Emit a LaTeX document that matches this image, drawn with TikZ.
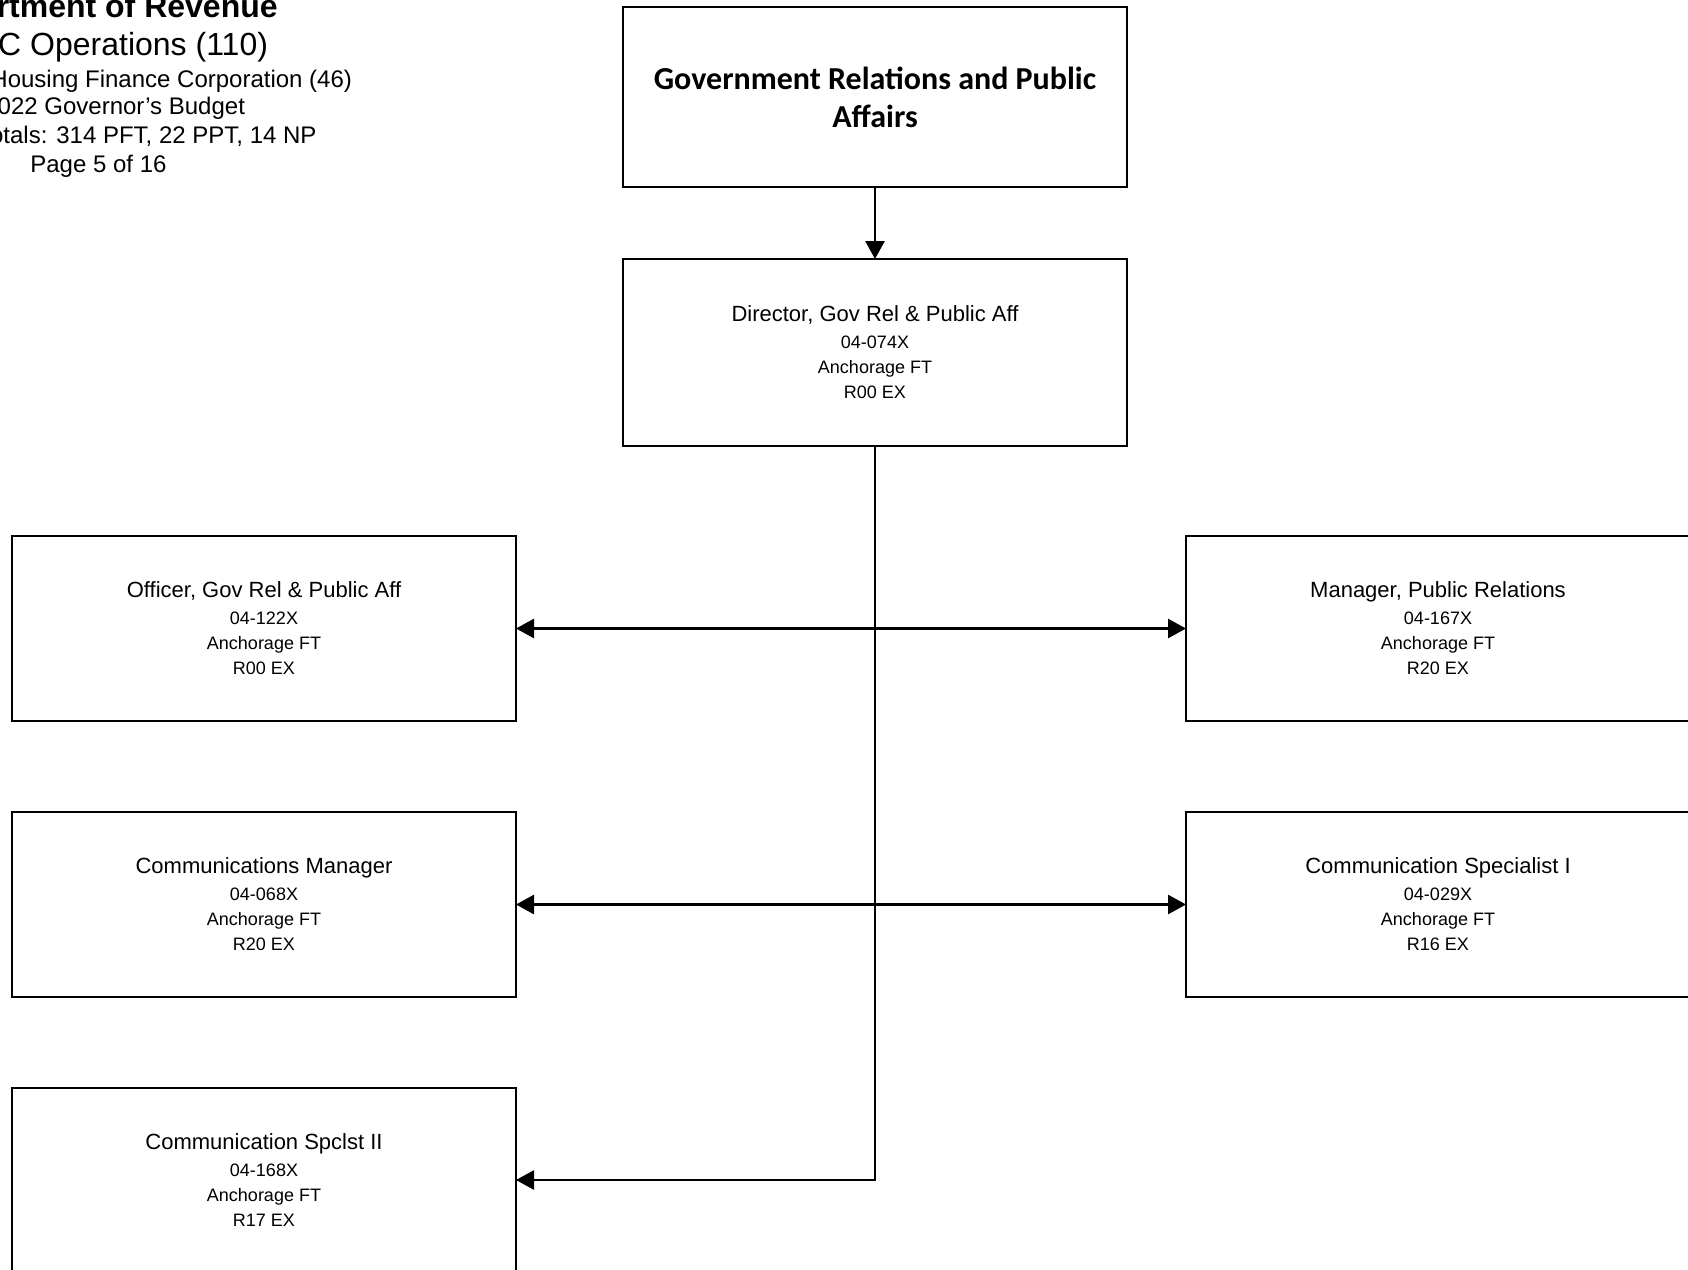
\documentclass[tikz,border=0pt]{standalone}
\usepackage{fontspec}
\setmainfont{Liberation Sans}
\newfontfamily\carlitofont{Carlito}
\usetikzlibrary{arrows.meta}
\begin{document}
\begin{tikzpicture}[x=0.5pt,y=-0.5pt,
  posbox/.style={draw, line width=1pt, minimum width=252pt, minimum height=92.5pt,
    inner sep=0pt, outer sep=0pt, align=center, font=\fontsize{9}{12.5}\selectfont},
  conn/.style={line width=1.4pt, line join=miter},
  tipend/.style={-{Triangle[length=9pt,width=9.5pt]}},
  hdr/.style={anchor=base east, inner sep=0pt, outer sep=0pt},
  hbig/.style={hdr, font=\fontsize{16}{19}\selectfont},
  hsmall/.style={hdr, font=\fontsize{12}{14}\selectfont},
]
\useasboundingbox (0,0) rectangle (1688,1270);
\clip (0,0) rectangle (1688,1270);

% header
\node[hbig, font=\bfseries\fontsize{16}{19}\selectfont] (h1) at (277.7,17) {Department of Revenue};
\node[hbig] (h2) at (268,55) {AHFC Operations (110)};
\node[hsmall] (h3) at (352,87) {Alaska Housing Finance Corporation (46)};
\node[hsmall] (h4) at (245,114) {FY2022 Governor’s Budget};
\node[hsmall] (h5) at (316.5,143) {Position Totals: 314 PFT, 22 PPT, 14 NP};
\node[hsmall] (h6) at (166.5,172) {Page 5 of 16};

% boxes
\node[posbox, minimum height=90pt, font=\carlitofont\bfseries\fontsize{16}{19}\selectfont] (title) at (875,97)
  {Government Relations and Public\\Affairs};
\node[posbox, minimum height=93.5pt] (dir) at (875,352.5)
  {{\fontsize{11}{12.5}\selectfont Director, Gov Rel \& Public Aff}\\[1pt]04-074X\\Anchorage FT\\R00 EX};
\node[posbox] (L1) at (264,628.5)
  {{\fontsize{11}{12.5}\selectfont Officer, Gov Rel \& Public Aff}\\[1pt]04-122X\\Anchorage FT\\R00 EX};
\node[posbox] (L2) at (264,904.5)
  {{\fontsize{11}{12.5}\selectfont Communications Manager}\\[1pt]04-068X\\Anchorage FT\\R20 EX};
\node[posbox] (L3) at (264,1180)
  {{\fontsize{11}{12.5}\selectfont Communication Spclst II}\\[1pt]04-168X\\Anchorage FT\\R17 EX};
\node[posbox] (R1) at (1438,628.5)
  {{\fontsize{11}{12.5}\selectfont Manager, Public Relations}\\[1pt]04-167X\\Anchorage FT\\R20 EX};
\node[posbox] (R2) at (1438,904.5)
  {{\fontsize{11}{12.5}\selectfont Communication Specialist I}\\[1pt]04-029X\\Anchorage FT\\R16 EX};

% connectors
\draw[conn, tipend] (title.south) -- (dir.north);
\coordinate (j1) at (dir.south |- L1.east);
\coordinate (j2) at (dir.south |- L2.east);
\coordinate (j3) at (dir.south |- L3.east);
\draw[conn, tipend] (dir.south) -- (j3) -- (L3.east);
\draw[conn, tipend] (j1) -- (L1.east);
\draw[conn, tipend] (j1) -- (R1.west);
\draw[conn, tipend] (j2) -- (L2.east);
\draw[conn, tipend] (j2) -- (R2.west);
\end{tikzpicture}
\end{document}
